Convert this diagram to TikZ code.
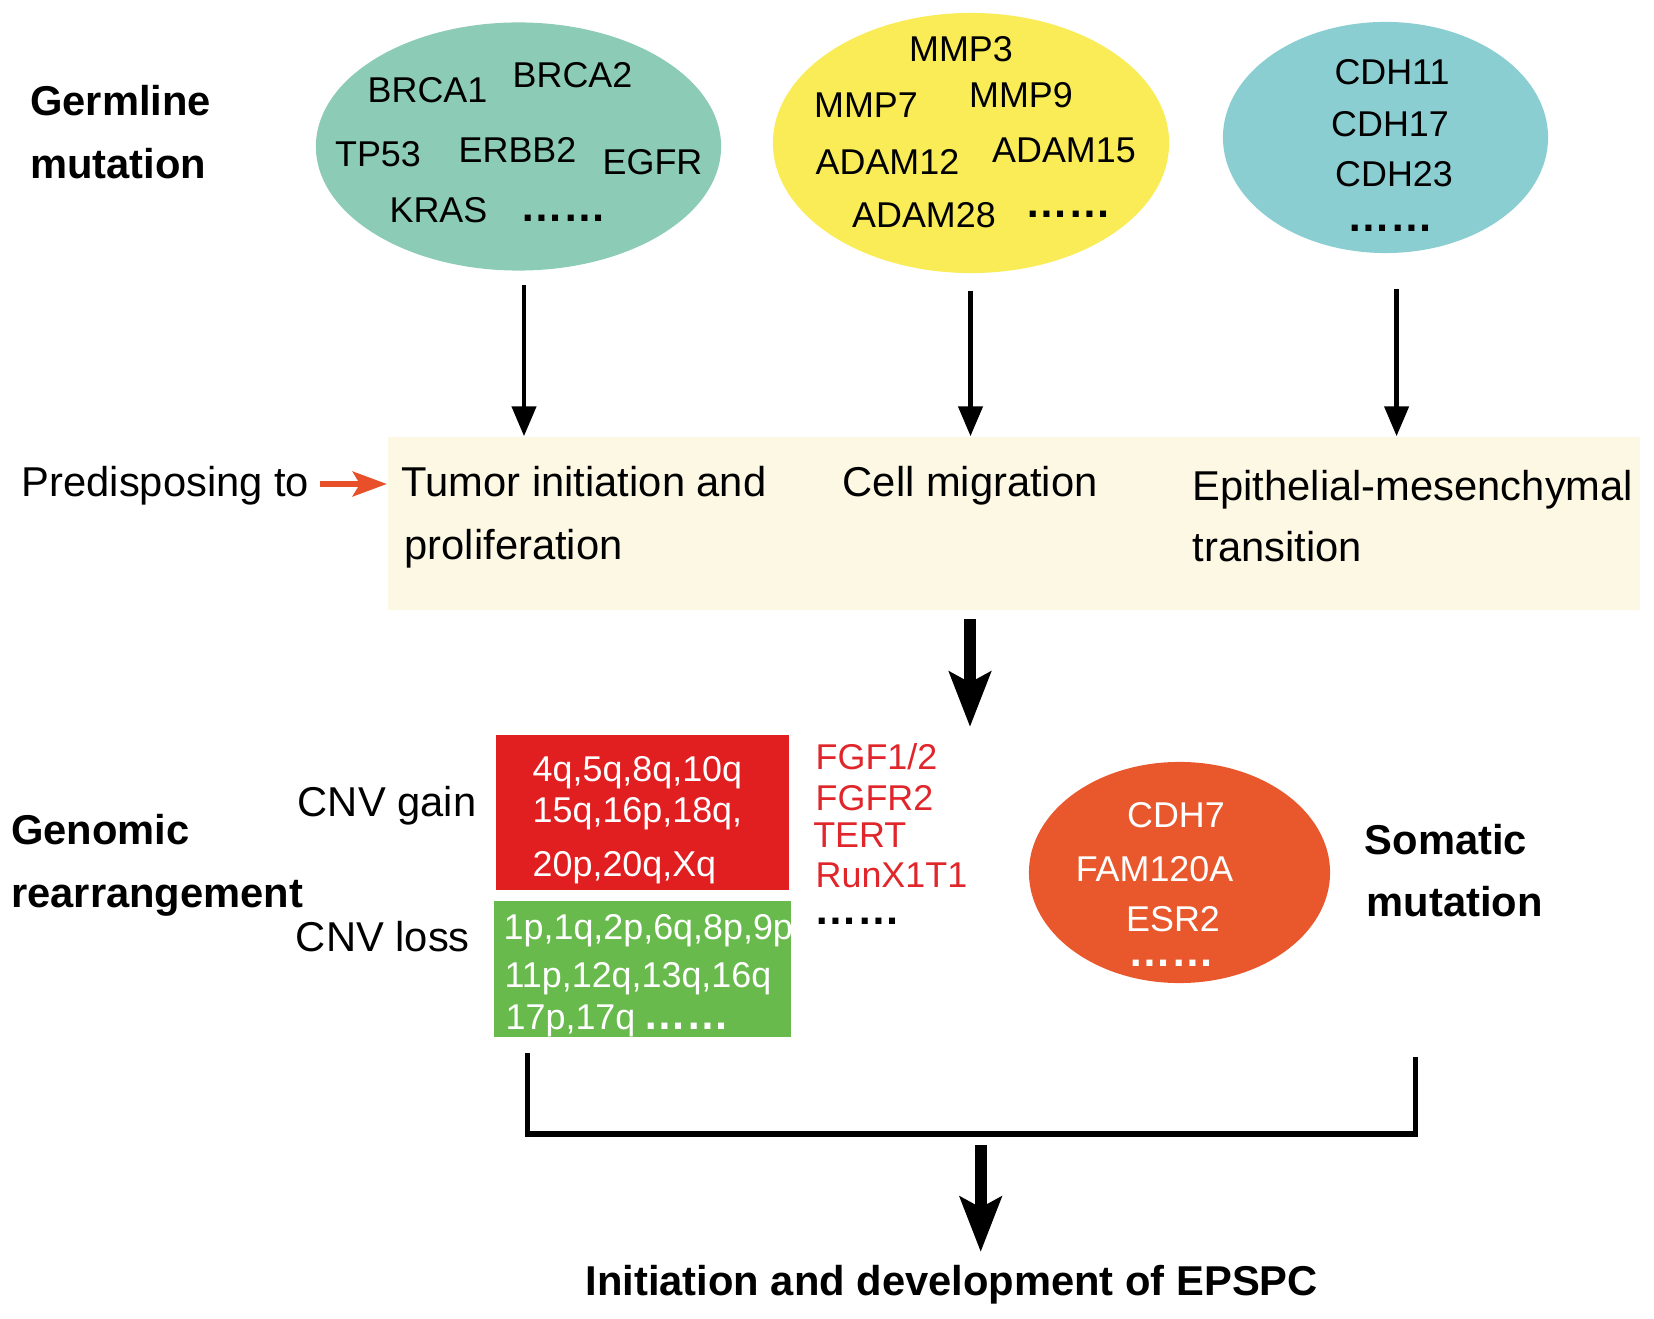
\documentclass[tikz,border=0pt]{standalone}
\usepackage{fontspec}
\setmainfont{Liberation Sans}
\usetikzlibrary{shapes.geometric,arrows.meta}
\definecolor{ellgreen}{RGB}{140,203,181}
\definecolor{ellyellow}{RGB}{249,236,87}
\definecolor{ellcyan}{RGB}{139,206,210}
\definecolor{ellorange}{RGB}{232,88,44}
\definecolor{cream}{RGB}{253,248,227}
\definecolor{arroworange}{RGB}{232,80,42}
\definecolor{boxred}{RGB}{225,30,32}
\definecolor{boxgreen}{RGB}{105,186,76}
\definecolor{txtred}{RGB}{224,38,42}
\begin{document}
\begin{tikzpicture}[x=0.01cm,y=-0.01cm,
  lg/.style={font=\fontsize{11.86}{14}\selectfont, inner sep=0pt},
  lgb/.style={font=\fontsize{11.86}{14}\selectfont\bfseries, inner sep=0pt},
  sm/.style={font=\fontsize{10.2}{12}\selectfont, inner sep=0pt},
  dotrow/.style={font=\fontsize{12.2}{14}\selectfont\bfseries, inner sep=0pt},
  blob/.style={ellipse, draw=none, inner sep=0pt},
  panel/.style={rectangle, draw=none, inner sep=0pt},
  thinarrow/.style={line width=1.3pt, -{Triangle[length=8.5pt,width=6.8pt]}},
  thickarrow/.style={line width=3.4pt, -{Stealth[length=15.6pt,width=11.7pt,inset=3pt]}},
  predarrow/.style={arroworange, line width=1.7pt, -{Stealth[length=9.7pt,width=7pt,inset=2pt]}},
]
\useasboundingbox (0,0) rectangle (1654,1319);

% ---- germline ellipses ----
\node[blob, fill=ellgreen, minimum width=4.05cm, minimum height=2.48cm] (eg) at (518.5,146.5) {};
\node[blob, fill=ellyellow, minimum width=3.96cm, minimum height=2.60cm] (ey) at (971,143) {};
\node[blob, fill=ellcyan, minimum width=3.25cm, minimum height=2.31cm] (ec) at (1385.5,137.5) {};

\node[lgb, anchor=base west] (germ1) at (29.5,116) {Germline};
\node[lgb, anchor=base west] (germ2) at (29.5,179) {mutation};

\node[sm, anchor=base] (brca1) at (427.5,103) {BRCA1};
\node[sm, anchor=base] (brca2) at (572.5,88) {BRCA2};
\node[sm, anchor=base] (tp53) at (378,167) {TP53};
\node[sm, anchor=base] (erbb2) at (517.5,163) {ERBB2};
\node[sm, anchor=base] (egfr) at (652.5,175) {EGFR};
\node[sm, anchor=base] (kras) at (438.5,223) {KRAS};
\node[dotrow, anchor=base] (gdots) at (563.5,222) {……};

\node[sm, anchor=base] (mmp3) at (961,62) {MMP3};
\node[sm, anchor=base] (mmp7) at (866,118) {MMP7};
\node[sm, anchor=base] (mmp9) at (1021,108) {MMP9};
\node[sm, anchor=base] (adam12) at (887.5,175) {ADAM12};
\node[sm, anchor=base] (adam15) at (1064,163) {ADAM15};
\node[sm, anchor=base] (adam28) at (924,228) {ADAM28};
\node[dotrow, anchor=base] (ydots) at (1068.5,218) {……};

\node[sm, anchor=base] (cdh11) at (1392,85) {CDH11};
\node[sm, anchor=base] (cdh17) at (1390,137) {CDH17};
\node[sm, anchor=base] (cdh23) at (1394,187) {CDH23};
\node[dotrow, anchor=base] (cdots) at (1390.5,232) {……};

% ---- process panel ----
\node[panel, fill=cream, minimum width=12.52cm, minimum height=1.73cm] (box) at (1014,523.5) {};
\node[lg, anchor=base west] (pred) at (21,497) {Predisposing to};
\node[lg, anchor=base west] (tum1) at (401,497) {Tumor initiation and};
\node[lg, anchor=base west] (tum2) at (404,560) {proliferation};
\node[lg, anchor=base west] (cell) at (842,497) {Cell migration};
\node[lg, anchor=base west] (emt1) at (1192,501) {Epithelial-mesenchymal};
\node[lg, anchor=base west] (emt2) at (1192,562) {transition};

\coordinate (a1) at (524,285);
\coordinate (a2) at (970.5,291);
\coordinate (a3) at (1396.6,289);
\draw[thinarrow] (a1) -- (a1 |- box.north);
\draw[thinarrow] (a2) -- (a2 |- box.north);
\draw[thinarrow] (a3) -- (a3 |- box.north);

\coordinate (ps) at (320,484);
\draw[predarrow] (ps) -- (ps -| box.west);

\coordinate (t1s) at (970,619);
\coordinate (t1e) at (970,727);
\draw[thickarrow] (t1s) -- (t1e);

% ---- genomic rearrangement ----
\node[panel, fill=boxred, minimum width=2.93cm, minimum height=1.55cm] (gain) at (642.5,812.5) {};
\node[panel, fill=boxgreen, minimum width=2.97cm, minimum height=1.36cm] (loss) at (642.5,969) {};

\node[sm, anchor=base west, text=white] (g1) at (532,782) {4q,5q,8q,10q};
\node[sm, anchor=base west, text=white] (g2) at (532,823) {15q,16p,18q,};
\node[sm, anchor=base west, text=white] (g3) at (532,877) {20p,20q,Xq};
\node[sm, anchor=base west, text=white] (l1) at (503,940) {1p,1q,2p,6q,8p,9p};
\node[sm, anchor=base west, text=white] (l2) at (504,988) {11p,12q,13q,16q};
\node[sm, anchor=base west, text=white] (l3) at (505,1030) {17p,17q};
\node[dotrow, anchor=base west, text=white] (l3d) at (643,1030) {……};

\node[lg, anchor=base east] (cnvg) at (477,817) {CNV gain};
\node[lg, anchor=base east] (cnvl) at (470.5,952) {CNV loss};
\node[lgb, anchor=base west] (gen1) at (10.5,845) {Genomic};
\node[lgb, anchor=base west] (gen2) at (10.5,908) {rearrangement};

\node[sm, anchor=base west, text=txtred] (fgf) at (815,770) {FGF1/2};
\node[sm, anchor=base west, text=txtred] (fgfr) at (815,811) {FGFR2};
\node[sm, anchor=base west, text=txtred] (tert) at (812.6,848) {TERT};
\node[sm, anchor=base west, text=txtred] (runx) at (815,888) {RunX1T1};
\node[dotrow, anchor=base] (rdots) at (857,925) {……};

% ---- somatic ----
\node[blob, fill=ellorange, minimum width=3.01cm, minimum height=2.21cm] (eo) at (1179.5,872.5) {};
\node[sm, anchor=base, text=white] (cdh7) at (1176,828) {CDH7};
\node[sm, anchor=base, text=white] (fam) at (1154.5,882) {FAM120A};
\node[sm, anchor=base, text=white] (esr2) at (1173,932) {ESR2};
\node[dotrow, anchor=base, text=white] (odots) at (1171,967) {……};
\node[lgb, anchor=base west] (som1) at (1364,855) {Somatic};
\node[lgb, anchor=base west] (som2) at (1366,917) {mutation};

% ---- bracket ----
\coordinate (bl) at (527.6,1053);
\coordinate (br) at (1415.5,1057);
\coordinate (bb) at (0,1134);
\draw[line width=1.2pt] (bl) -- (bl |- bb);
\draw[line width=1.2pt] (br) -- (br |- bb);
\draw[line width=1.7pt] ([xshift=-0.6pt]bl |- bb) -- ([xshift=0.6pt]br |- bb);

\coordinate (t2s) at (980.7,1145);
\coordinate (t2e) at (980.7,1252);
\draw[thickarrow] (t2s) -- (t2e);

\node[lgb, anchor=base] (final) at (951.6,1295) {Initiation and development of EPSPC};
\end{tikzpicture}
\end{document}
